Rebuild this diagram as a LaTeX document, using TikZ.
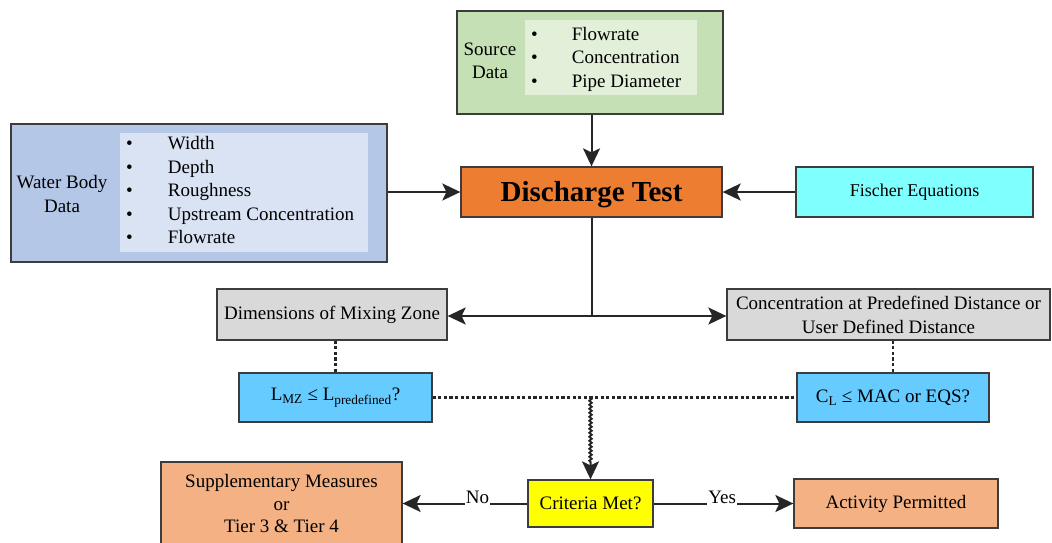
\documentclass[tikz,border=0pt]{standalone}
\usepackage{fontspec}
\setmainfont{Liberation Serif}
\usetikzlibrary{arrows.meta,calc,decorations.pathmorphing}

\definecolor{boxline}{HTML}{3C3C3C}
\definecolor{srcgreen}{HTML}{C5E0B4}
\definecolor{srcgreenin}{HTML}{E2EFD9}
\definecolor{wbblue}{HTML}{B4C7E7}
\definecolor{wbbluein}{HTML}{DAE3F3}
\definecolor{testorange}{HTML}{ED7D31}
\definecolor{fischercyan}{HTML}{80FFFF}
\definecolor{resultgray}{HTML}{D9D9D9}
\definecolor{checkblue}{HTML}{66CCFF}
\definecolor{crityellow}{HTML}{FFFF00}
\definecolor{outpeach}{HTML}{F4B183}

\tikzset{
  sz/.style 2 args={minimum width=#1pt, minimum height=#2pt},
  box/.style={draw=boxline, line width=1.3pt, inner sep=0pt, align=center,
    text=black, font=\fontsize{19}{23}\selectfont},
  panel/.style={draw=none, inner sep=0pt},
  txt/.style={inner sep=0pt, align=center, text=black,
    font=\fontsize{19}{23.5}\selectfont},
  conn/.style={line width=2pt, draw=black!85},
  tip/.style={-{Stealth[length=18pt,width=17pt,inset=4pt]}},
  dots/.style={line width=2.2pt, draw=black!85, dash pattern=on 3.2pt off 2.4pt},
  wavy/.style={line width=2pt, draw=black!85, decorate,
    decoration={snake, amplitude=1.1pt, segment length=4pt, post length=17pt}},
  lbl/.style={anchor=base, fill=white, inner sep=1pt, text=black,
    font=\fontsize{19}{23}\selectfont}
}

\begin{document}
\begin{tikzpicture}[x=1pt,y=-1pt]
\useasboundingbox (0,0) rectangle (1052,542);

% source data block
\node[box, fill=srcgreen, sz={266}{103}] (src) at (590,62.5) {};
\node[panel, fill=srcgreenin, sz={172}{75}] (srcin) at (611,57.5) {};
\node[txt] (srclab) at (490,61) {Source\\Data};
\node[txt, anchor=west] (srclist) at (531,59)
  {\begin{tabular}{@{}l@{\hspace{34pt}}l@{}}•&Flowrate\\•&Concentration\\•&Pipe Diameter\end{tabular}};

% water body data block
\node[box, fill=wbblue, sz={376}{138}] (wb) at (199,193) {};
\node[panel, fill=wbbluein, sz={248}{119}] (wbin) at (244,192.5) {};
\node[txt] (wblab) at (62,194) {Water Body\\Data};
\node[txt, anchor=west] (wblist) at (126,192)
  {\begin{tabular}{@{}l@{\hspace{35pt}}l@{}}•&Width\\•&Depth\\•&Roughness\\•&Upstream Concentration\\•&Flowrate\end{tabular}};

% central test and its inputs
\node[box, fill=testorange, sz={261}{50}, font=\bfseries\fontsize{29}{33}\selectfont] (dt) at (591.5,192)
  {\raisebox{-3pt}[\height][\depth]{Discharge Test}};
\node[box, fill=fischercyan, sz={237}{50}, font=\fontsize{18}{22}\selectfont] (fis) at (914.5,192) {Fischer Equations};

% results
\node[box, fill=resultgray, sz={230}{51}] (dim) at (332,314.5) {Dimensions of Mixing Zone};
\node[box, fill=resultgray, sz={323}{51}, font=\fontsize{19}{24}\selectfont] (conc) at (888.5,314.5)
  {Concentration at Predefined Distance or\\User Defined Distance};

% checks
\node[box, fill=checkblue, sz={193}{49}] (lmz) at (335.5,397.5)
  {L\textsubscript{MZ} ≤ L\textsubscript{predefined}?};
\node[box, fill=checkblue, sz={192}{49}] (cl) at (893,397.5)
  {C\textsubscript{L} ≤ MAC or EQS?};

% decision and outcomes
\node[box, fill=crityellow, sz={125}{47}] (crit) at (590.5,503.5) {Criteria Met?};
\node[box, fill=outpeach, sz={241}{83}, font=\fontsize{19}{22.5}\selectfont] (supp) at (281.5,503.5)
  {Supplementary Measures\\or\\Tier 3 \& Tier 4};
\node[box, fill=outpeach, sz={204}{49}] (act) at (896,503.5) {Activity Permitted};

% solid connectors
\draw[conn,tip] (dt.north |- src.south) -- (dt.north);
\draw[conn,tip] (wb.east |- dt.west) -- (dt.west);
\draw[conn,tip] (fis.west) -- (dt.east);
\coordinate (split) at (591.5,316);
\draw[conn] (dt.south) -- (split);
\draw[conn,tip] (split) -- (split -| dim.east);
\draw[conn,tip] (split) -- (split -| conc.west);

% dotted links to the checks
\draw[dots] (lmz.north |- dim.south) -- (lmz.north);
\draw[dots] (cl.north |- conc.south) -- (cl.north);
\draw[dots] (lmz.east) -- (cl.west);
\coordinate (merge) at (lmz.east -| crit.north);
\draw[wavy,tip] (merge) -- (crit.north);

% decision outcomes
\draw[conn,tip] (crit.west) -- node[lbl, pos=0.4] (no) {No} (crit.west -| supp.east);
\draw[conn,tip] (crit.east) -- node[lbl, pos=0.49] (yes) {Yes} (act.west);
\end{tikzpicture}
\end{document}
